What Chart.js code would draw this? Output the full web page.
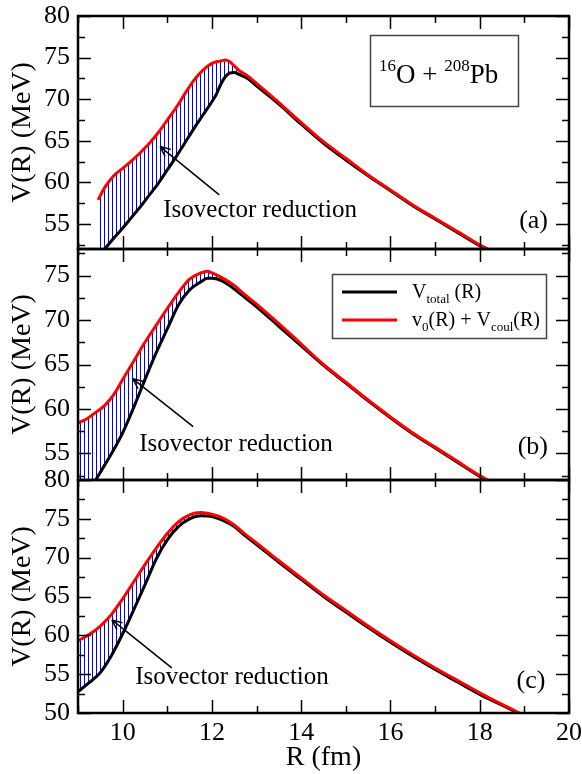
<!DOCTYPE html>
<html>
<head>
<meta charset="utf-8">
<script src="https://cdn.jsdelivr.net/npm/chart.js@4.4.0/dist/chart.umd.min.js"></script>
<style>
  body { margin: 0; background: #fff; }
  #wrap { position: relative; width: 582px; height: 774px; }
  canvas { position: absolute; left: 0; }
</style>
</head>
<body>
<div id="wrap">
  <canvas id="panelA" width="582" height="262" style="top:0px"></canvas>
  <canvas id="panelB" width="582" height="250" style="top:240px"></canvas>
  <canvas id="panelC" width="582" height="314" style="top:460px"></canvas>
</div>
<script>
// Panel (a)
const rA = [9.45, 9.6, 9.8, 10.0, 10.2, 10.4, 10.6, 10.8, 11.0, 11.2, 11.4, 11.6, 11.8, 12.0, 12.1, 12.2, 12.3, 12.4, 12.5, 12.6, 12.8, 13.0, 13.5, 14.0, 14.5, 15.0, 15.5, 16.0, 16.5, 17.0, 17.5, 18.0, 18.5];
const totalA = [50.9, 52.0, 53.3, 54.5, 55.8, 57.1, 58.5, 59.9, 61.5, 63.1, 64.8, 66.5, 68.1, 69.7, 70.6, 71.8, 72.7, 73.15, 73.2, 73.0, 72.5, 71.6, 69.4, 67.0, 64.7, 62.7, 60.8, 59.0, 57.2, 55.6, 54.0, 52.4, 51.0];
const bareA = [57.9, 59.4, 60.8, 61.7, 62.6, 63.6, 64.7, 66.0, 67.5, 69.0, 70.7, 72.3, 73.5, 74.3, 74.5, 74.6, 74.7, 74.5, 74.0, 73.5, 72.8, 71.9, 69.6, 67.2, 64.9, 62.9, 60.9, 59.1, 57.3, 55.7, 54.1, 52.5, 51.1];

// Panel (b)
const rB = [9.0, 9.2, 9.42, 9.6, 9.8, 10.0, 10.25, 10.5, 10.75, 11.0, 11.25, 11.5, 11.75, 11.9, 12.0, 12.25, 12.5, 12.75, 13.0, 13.5, 14.0, 14.5, 15.0, 15.5, 16.0, 16.5, 17.0, 17.5, 18.0, 18.5];
const totalB = [48.6, 50.4, 52.2, 53.7, 55.4, 57.3, 60.2, 63.3, 66.3, 69.0, 71.7, 73.4, 74.3, 74.7, 74.7, 74.35, 73.5, 72.5, 71.5, 69.3, 67.1, 64.9, 62.9, 60.9, 59.0, 57.2, 55.6, 54.0, 52.4, 51.0];
const bareB = [58.4, 58.9, 59.7, 60.4, 61.6, 63.3, 65.4, 67.5, 69.4, 71.3, 73.1, 74.6, 75.3, 75.5, 75.3, 74.7, 73.9, 72.8, 71.8, 69.6, 67.3, 65.0, 63.0, 61.0, 59.1, 57.3, 55.7, 54.1, 52.5, 51.1];

// Panel (c)
const rC = [9.0, 9.25, 9.5, 9.75, 10.0, 10.25, 10.5, 10.75, 11.0, 11.25, 11.5, 11.75, 12.0, 12.25, 12.5, 12.75, 13.0, 13.5, 14.0, 14.5, 15.0, 15.5, 16.0, 16.5, 17.0, 17.5, 18.0, 18.5, 19.0];
const totalC = [52.75, 53.9, 55.2, 57.4, 60.2, 63.3, 66.5, 69.8, 72.3, 74.0, 75.0, 75.4, 75.3, 74.8, 74.0, 72.8, 71.7, 69.4, 67.2, 65.0, 63.0, 61.0, 59.1, 57.3, 55.6, 54.0, 52.4, 51.0, 49.6];
const bareC = [59.3, 60.1, 61.2, 62.7, 64.7, 66.9, 69.1, 71.2, 73.1, 74.6, 75.5, 75.8, 75.6, 75.1, 74.2, 73.0, 71.9, 69.6, 67.4, 65.2, 63.2, 61.2, 59.3, 57.5, 55.8, 54.2, 52.6, 51.1, 49.7];

// Tick labels
const xTickLabels = [10, 12, 14, 16, 18, 20];
const yTicksA = [55, 60, 65, 70, 75, 80];
const yTicksB = [55, 60, 65, 70, 75];
const yTicksC = [50, 55, 60, 65, 70, 75, 80];

const SERIF = 'Liberation Serif';
Chart.defaults.font.family = SERIF;
Chart.defaults.color = '#000';
const tickFont = { family: SERIF, size: 26 };
const titleFont = { family: SERIF, size: 28 };

// Blue vertical hatching between the two curves
function hatchPattern() {
    const c = document.createElement('canvas');
    c.width = 4;
    c.height = 4;
    const g = c.getContext('2d');
    g.fillStyle = '#0000ff';
    g.fillRect(0, 0, 1, 4);
    return g.createPattern(c, 'repeat');
}
const hatch = hatchPattern();

function toPoints(r, v) {
    return r.map((x, i) => ({ x: x, y: v[i] }));
}

// Text with sub/superscripts: parts = [text, size, raise]
function drawRich(ctx, parts, x, y) {
    ctx.textAlign = 'left';
    ctx.textBaseline = 'alphabetic';
    for (const [t, size, dy] of parts) {
        ctx.font = size + 'px ' + SERIF;
        ctx.fillText(t, x, y + dy);
        x += ctx.measureText(t).width;
    }
}

function drawArrow(ctx, x0, y0, x1, y1) {
    ctx.beginPath();
    ctx.moveTo(x0, y0);
    ctx.lineTo(x1, y1);
    const ang = Math.atan2(y1 - y0, x1 - x0);
    const len = 11;
    for (const s of [-1, 1]) {
        ctx.moveTo(x1, y1);
        ctx.lineTo(x1 - len * Math.cos(ang + s * 0.42), y1 - len * Math.sin(ang + s * 0.42));
    }
    ctx.stroke();
}

// Frame, inward ticks, annotations
function drawDeco(chart, p) {
    const { ctx, chartArea: a, scales: { x, y } } = chart;
    ctx.save();
    ctx.strokeStyle = '#000';
    ctx.fillStyle = '#000';
    ctx.lineWidth = 1.5;
    ctx.beginPath();
    for (let v = 9; v <= 20; v += 1) {
        const px = Math.round(x.getPixelForValue(v)) + 0.5;
        const len = v % 2 === 0 ? 13 : 7;
        ctx.moveTo(px, a.top); ctx.lineTo(px, a.top + len);
        ctx.moveTo(px, a.bottom); ctx.lineTo(px, a.bottom - len);
    }
    for (let v = Math.ceil(p.yMin / 2.5) * 2.5; v <= p.yMax; v += 2.5) {
        const py = Math.round(y.getPixelForValue(v)) + 0.5;
        const len = v % 5 === 0 ? 13 : 7;
        ctx.moveTo(a.left, py); ctx.lineTo(a.left + len, py);
        ctx.moveTo(a.right, py); ctx.lineTo(a.right - len, py);
    }
    ctx.stroke();

    ctx.lineWidth = 2.5;
    ctx.strokeRect(a.left, a.top, a.right - a.left, a.bottom - a.top);

    // "Isovector reduction" with arrow
    const n = p.note;
    ctx.lineWidth = 1.5;
    drawArrow(ctx, x.getPixelForValue(n.from[0]), y.getPixelForValue(n.from[1]),
        x.getPixelForValue(n.to[0]), y.getPixelForValue(n.to[1]));
    drawRich(ctx, [['Isovector reduction', 25, 0]], x.getPixelForValue(n.text[0]), y.getPixelForValue(n.text[1]));

    // panel letter
    ctx.font = '26px ' + SERIF;
    ctx.textAlign = 'right';
    ctx.fillText(p.letter, x.getPixelForValue(p.letterAt[0]), y.getPixelForValue(p.letterAt[1]));

    if (p.kind === 'a') {
        // system label box
        const bx0 = x.getPixelForValue(15.54), bx1 = x.getPixelForValue(18.85);
        const by0 = y.getPixelForValue(77.72), by1 = y.getPixelForValue(69.2);
        ctx.strokeStyle = '#444';
        ctx.lineWidth = 1.5;
        ctx.strokeRect(Math.round(bx0) + 0.5, Math.round(by0) + 0.5, Math.round(bx1 - bx0), Math.round(by1 - by0));
        drawRich(ctx, [['16', 17, -12], ['O + ', 27, 0], ['208', 17, -12], ['Pb', 27, 0]],
            bx0 + 9, by0 + 48);
    }
    if (p.kind === 'b') {
        // legend
        const lx = a.right - 237, ly = a.top + 25;
        ctx.strokeStyle = '#444';
        ctx.lineWidth = 1.5;
        ctx.strokeRect(lx + 0.5, ly + 0.5, 214, 64);
        const rows = [
            { color: '#000', y: ly + 18, parts: [['V', 20, 0], ['total', 13, 5], [' (R)', 20, 0]] },
            { color: '#ff0000', y: ly + 46, parts: [['v', 20, 0], ['0', 13, 5], ['(R) + V', 20, 0], ['coul', 13, 5], ['(R)', 20, 0]] }
        ];
        for (const row of rows) {
            ctx.strokeStyle = row.color;
            ctx.lineWidth = 3;
            ctx.beginPath();
            ctx.moveTo(lx + 10, row.y);
            ctx.lineTo(lx + 65, row.y);
            ctx.stroke();
            ctx.fillStyle = '#000';
            drawRich(ctx, row.parts, lx + 80, row.y + 6);
        }
    }
    ctx.restore();
}

function makePanel(id, p) {
    const ctx = document.getElementById(id).getContext('2d');
    const deco = { id: 'deco', afterDraw(chart) { drawDeco(chart, p); } };
    return new Chart(ctx, {
        type: 'line',
        data: {
            datasets: [{
                label: 'Vtotal(R)',
                data: toPoints(p.r, p.total),
                borderColor: '#000000',
                borderWidth: 3,
                pointRadius: 0,
                cubicInterpolationMode: 'monotone',
                fill: false,
                clip: 0,
                order: 1
            }, {
                label: 'v0(R) + Vcoul(R)',
                data: toPoints(p.r, p.bare),
                borderColor: '#ff0000',
                borderWidth: 3,
                pointRadius: 0,
                cubicInterpolationMode: 'monotone',
                fill: { target: 0, above: hatch, below: 'rgba(0,0,0,0)' },
                clip: 0,
                order: 0
            }]
        },
        options: {
            responsive: false,
            animation: false,
            events: [],
            layout: { padding: { top: p.padTop, right: 13, left: 0, bottom: 0 } },
            plugins: {
                legend: { display: false },
                tooltip: { enabled: false },
                filler: { drawTime: 'beforeDatasetsDraw' }
            },
            scales: {
                x: {
                    type: 'linear',
                    min: 9,
                    max: 20,
                    grid: { display: false, drawTicks: false },
                    border: { display: false },
                    afterBuildTicks: s => { s.ticks = xTickLabels.map(v => ({ value: v })); },
                    afterFit: s => {
                        s.height = p.xHeight;
                        s.paddingLeft = 0; s.paddingRight = 0; s.paddingTop = 0; s.paddingBottom = 0;
                    },
                    ticks: { display: p.showX, font: tickFont, color: '#000', padding: 5, maxRotation: 0 },
                    title: { display: p.showX, text: 'R (fm)', font: titleFont, color: '#000', padding: { top: 0, bottom: 0 } }
                },
                y: {
                    type: 'linear',
                    min: p.yMin,
                    max: p.yMax,
                    grid: { display: false, drawTicks: false },
                    border: { display: false },
                    afterBuildTicks: s => { s.ticks = p.yTicks.map(v => ({ value: v })); },
                    afterFit: s => {
                        s.width = 78;
                        s.paddingLeft = 0; s.paddingRight = 0; s.paddingTop = 0; s.paddingBottom = 0;
                    },
                    ticks: { font: tickFont, color: '#000', padding: 8 },
                    title: { display: true, text: 'V(R) (MeV)', font: titleFont, color: '#000', padding: { top: 6, bottom: 0 } }
                }
            }
        },
        plugins: [deco]
    });
}

makePanel('panelA', {
    kind: 'a', r: rA, total: totalA, bare: bareA,
    yMin: 52, yMax: 80, yTicks: yTicksA, padTop: 16, xHeight: 13, showX: false,
    note: { from: [12.165, 58.5], to: [10.84, 64.31], text: [10.91, 55.8] },
    letter: '(a)', letterAt: [19.53, 54.55]
});
makePanel('panelB', {
    kind: 'b', r: rB, total: totalB, bare: bareB,
    yMin: 52, yMax: 78, yTicks: yTicksB, padTop: 9, xHeight: 10, showX: false,
    note: { from: [11.58, 58.0], to: [10.23, 63.39], text: [10.37, 55.21] },
    letter: '(b)', letterAt: [19.53, 54.91]
});
makePanel('panelC', {
    kind: 'c', r: rC, total: totalC, bare: bareC,
    yMin: 50, yMax: 80, yTicks: yTicksC, padTop: 20, xHeight: 61, showX: true,
    note: { from: [11.1, 55.8], to: [9.76, 61.98], text: [10.28, 53.75] },
    letter: '(c)', letterAt: [19.47, 53.23]
});
</script>
</body>
</html>
